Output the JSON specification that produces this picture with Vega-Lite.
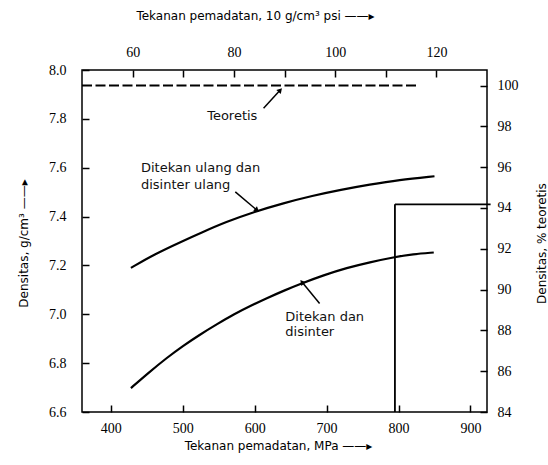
{
  "$schema": "https://vega.github.io/schema/vega-lite/v6.json",
  "width": 405,
  "height": 342,
  "autosize": "none",
  "padding": {"left": 82, "top": 70, "right": 61, "bottom": 53},
  "background": "white",
  "config": {
    "view": {"stroke": "black", "strokeWidth": 1.5},
    "axis": {
      "domain": false, "grid": false, "ticks": true, "tickColor": "black", "tickWidth": 1.5, "tickSize": -7,
      "labelFont": "Liberation Serif", "labelFontSize": 14, "labelColor": "black",
      "titleFont": "DejaVu Sans", "titleFontSize": 12, "titleFontWeight": "normal", "titleColor": "black"
    },
    "axisQuantitative": {"labelFont": "Liberation Serif", "tickSize": -7, "tickColor": "black"}
  },
  "datasets": {
    "curves": [
      {"series": "Ditekan ulang dan disinter ulang", "mpa": 428, "dens": 7.19},
      {"series": "Ditekan ulang dan disinter ulang", "mpa": 460, "dens": 7.245},
      {"series": "Ditekan ulang dan disinter ulang", "mpa": 500, "dens": 7.30},
      {"series": "Ditekan ulang dan disinter ulang", "mpa": 525, "dens": 7.333},
      {"series": "Ditekan ulang dan disinter ulang", "mpa": 560, "dens": 7.378},
      {"series": "Ditekan ulang dan disinter ulang", "mpa": 600, "dens": 7.42},
      {"series": "Ditekan ulang dan disinter ulang", "mpa": 640, "dens": 7.455},
      {"series": "Ditekan ulang dan disinter ulang", "mpa": 680, "dens": 7.485},
      {"series": "Ditekan ulang dan disinter ulang", "mpa": 720, "dens": 7.51},
      {"series": "Ditekan ulang dan disinter ulang", "mpa": 760, "dens": 7.531},
      {"series": "Ditekan ulang dan disinter ulang", "mpa": 800, "dens": 7.55},
      {"series": "Ditekan ulang dan disinter ulang", "mpa": 850, "dens": 7.565},
      {"series": "Ditekan dan disinter", "mpa": 428, "dens": 6.698},
      {"series": "Ditekan dan disinter", "mpa": 453, "dens": 6.762},
      {"series": "Ditekan dan disinter", "mpa": 478, "dens": 6.822},
      {"series": "Ditekan dan disinter", "mpa": 500, "dens": 6.870},
      {"series": "Ditekan dan disinter", "mpa": 524, "dens": 6.917},
      {"series": "Ditekan dan disinter", "mpa": 548, "dens": 6.960},
      {"series": "Ditekan dan disinter", "mpa": 571, "dens": 7.000},
      {"series": "Ditekan dan disinter", "mpa": 594, "dens": 7.034},
      {"series": "Ditekan dan disinter", "mpa": 617, "dens": 7.066},
      {"series": "Ditekan dan disinter", "mpa": 640, "dens": 7.096},
      {"series": "Ditekan dan disinter", "mpa": 664, "dens": 7.125},
      {"series": "Ditekan dan disinter", "mpa": 696, "dens": 7.160},
      {"series": "Ditekan dan disinter", "mpa": 728, "dens": 7.190},
      {"series": "Ditekan dan disinter", "mpa": 760, "dens": 7.213},
      {"series": "Ditekan dan disinter", "mpa": 794, "dens": 7.234},
      {"series": "Ditekan dan disinter", "mpa": 820, "dens": 7.246},
      {"series": "Ditekan dan disinter", "mpa": 849, "dens": 7.253}
    ],
    "guide": [
      {"mpa": 795, "dens": 6.6, "mpa2": 795, "dens2": 7.45},
      {"mpa": 795, "dens": 7.45, "mpa2": 928, "dens2": 7.45}
    ],
    "labels": [
      {"text": "Teoretis", "mpa": 534, "dens": 7.81},
      {"text": "Ditekan ulang dan", "mpa": 442, "dens": 7.597},
      {"text": "disinter ulang", "mpa": 442, "dens": 7.529},
      {"text": "Ditekan dan", "mpa": 642.6, "dens": 6.989},
      {"text": "disinter", "mpa": 642.6, "dens": 6.928}
    ],
    "arrows": [
      {"name": "teoretis", "mpa": 612.4, "dens": 7.843, "mpa2": 635.6, "dens2": 7.918},
      {"name": "ulang", "mpa": 573.1, "dens": 7.501, "mpa2": 603.3, "dens2": 7.426},
      {"name": "sekali", "mpa": 690.3, "dens": 7.044, "mpa2": 665.8, "dens2": 7.132}
    ],
    "theory": [
      {"psi": 50, "pct": 100},
      {"psi": 116.1, "pct": 100}
    ]
  },
  "layer": [
    {
      "layer": [
        {
          "data": {"name": "curves"},
          "mark": {"type": "line", "interpolate": "basis", "color": "black", "strokeWidth": 2.2},
          "encoding": {
            "x": {"field": "mpa", "type": "quantitative", "scale": {"domain": [360, 923], "nice": false, "zero": false},
              "axis": {"orient": "bottom", "values": [400, 500, 600, 700, 800, 900], "format": "d", "labelPadding": 16, "labelFont": "Liberation Serif", "tickSize": -7,
                "title": "Tekanan pemadatan, MPa ——▸", "titleX": 196, "titleY": 33, "titleBaseline": "middle", "titleAlign": "center"}},
            "y": {"field": "dens", "type": "quantitative", "scale": {"domain": [6.6, 8.0], "nice": false, "zero": false},
              "axis": {"orient": "left", "values": [6.6, 6.8, 7.0, 7.2, 7.4, 7.6, 7.8, 8.0], "format": ".1f", "labelPadding": 23, "labelFont": "Liberation Serif", "tickSize": -7,
                "title": "Densitas, g/cm³ ——▸", "titleX": -59, "titleY": 173, "titleAngle": 270, "titleBaseline": "middle", "titleAlign": "center"}},
            "detail": {"field": "series"}
          }
        },
        {
          "data": {"name": "guide"},
          "mark": {"type": "rule", "color": "black", "strokeWidth": 1.8},
          "encoding": {
            "x": {"field": "mpa", "type": "quantitative", "scale": {"domain": [360, 923], "nice": false, "zero": false},
              "axis": {"orient": "bottom", "values": [400, 500, 600, 700, 800, 900], "format": "d", "labelPadding": 16, "labelFont": "Liberation Serif", "tickSize": -7,
                "title": "Tekanan pemadatan, MPa ——▸", "titleX": 196, "titleY": 33, "titleBaseline": "middle", "titleAlign": "center"}},
            "y": {"field": "dens", "type": "quantitative", "scale": {"domain": [6.6, 8.0], "nice": false, "zero": false},
              "axis": {"orient": "left", "values": [6.6, 6.8, 7.0, 7.2, 7.4, 7.6, 7.8, 8.0], "format": ".1f", "labelPadding": 23, "labelFont": "Liberation Serif", "tickSize": -7,
                "title": "Densitas, g/cm³ ——▸", "titleX": -59, "titleY": 173, "titleAngle": 270, "titleBaseline": "middle", "titleAlign": "center"}},
            "x2": {"field": "mpa2"},
            "y2": {"field": "dens2"}
          }
        },
        {
          "data": {"name": "labels"},
          "mark": {"type": "text", "align": "left", "baseline": "middle", "font": "DejaVu Sans", "fontSize": 13, "color": "#111"},
          "encoding": {
            "x": {"field": "mpa", "type": "quantitative", "scale": {"domain": [360, 923], "nice": false, "zero": false},
              "axis": {"orient": "bottom", "values": [400, 500, 600, 700, 800, 900], "format": "d", "labelPadding": 16, "labelFont": "Liberation Serif", "tickSize": -7,
                "title": "Tekanan pemadatan, MPa ——▸", "titleX": 196, "titleY": 33, "titleBaseline": "middle", "titleAlign": "center"}},
            "y": {"field": "dens", "type": "quantitative", "scale": {"domain": [6.6, 8.0], "nice": false, "zero": false},
              "axis": {"orient": "left", "values": [6.6, 6.8, 7.0, 7.2, 7.4, 7.6, 7.8, 8.0], "format": ".1f", "labelPadding": 23, "labelFont": "Liberation Serif", "tickSize": -7,
                "title": "Densitas, g/cm³ ——▸", "titleX": -59, "titleY": 173, "titleAngle": 270, "titleBaseline": "middle", "titleAlign": "center"}},
            "text": {"field": "text"}
          }
        },
        {
          "data": {"name": "arrows"},
          "mark": {"type": "rule", "color": "black", "strokeWidth": 1.5},
          "encoding": {
            "x": {"field": "mpa", "type": "quantitative", "scale": {"domain": [360, 923], "nice": false, "zero": false},
              "axis": {"orient": "bottom", "values": [400, 500, 600, 700, 800, 900], "format": "d", "labelPadding": 16, "labelFont": "Liberation Serif", "tickSize": -7,
                "title": "Tekanan pemadatan, MPa ——▸", "titleX": 196, "titleY": 33, "titleBaseline": "middle", "titleAlign": "center"}},
            "y": {"field": "dens", "type": "quantitative", "scale": {"domain": [6.6, 8.0], "nice": false, "zero": false},
              "axis": {"orient": "left", "values": [6.6, 6.8, 7.0, 7.2, 7.4, 7.6, 7.8, 8.0], "format": ".1f", "labelPadding": 23, "labelFont": "Liberation Serif", "tickSize": -7,
                "title": "Densitas, g/cm³ ——▸", "titleX": -59, "titleY": 173, "titleAngle": 270, "titleBaseline": "middle", "titleAlign": "center"}},
            "x2": {"field": "mpa2"},
            "y2": {"field": "dens2"}
          }
        },
        {
          "data": {"name": "arrows"},
          "transform": [{"filter": "datum.name == 'teoretis'"}],
          "mark": {"type": "point", "shape": "triangle-up", "filled": true, "color": "black", "opacity": 1, "size": 35, "angle": 42},
          "encoding": {
            "x": {"field": "mpa2", "type": "quantitative", "scale": {"domain": [360, 923], "nice": false, "zero": false},
              "axis": {"orient": "bottom", "values": [400, 500, 600, 700, 800, 900], "format": "d", "labelPadding": 16, "labelFont": "Liberation Serif", "tickSize": -7,
                "title": "Tekanan pemadatan, MPa ——▸", "titleX": 196, "titleY": 33, "titleBaseline": "middle", "titleAlign": "center"}},
            "y": {"field": "dens2", "type": "quantitative", "scale": {"domain": [6.6, 8.0], "nice": false, "zero": false},
              "axis": {"orient": "left", "values": [6.6, 6.8, 7.0, 7.2, 7.4, 7.6, 7.8, 8.0], "format": ".1f", "labelPadding": 23, "labelFont": "Liberation Serif", "tickSize": -7,
                "title": "Densitas, g/cm³ ——▸", "titleX": -59, "titleY": 173, "titleAngle": 270, "titleBaseline": "middle", "titleAlign": "center"}}
          }
        },
        {
          "data": {"name": "arrows"},
          "transform": [{"filter": "datum.name == 'ulang'"}],
          "mark": {"type": "point", "shape": "triangle-up", "filled": true, "color": "black", "opacity": 1, "size": 35, "angle": 130},
          "encoding": {
            "x": {"field": "mpa2", "type": "quantitative", "scale": {"domain": [360, 923], "nice": false, "zero": false},
              "axis": {"orient": "bottom", "values": [400, 500, 600, 700, 800, 900], "format": "d", "labelPadding": 16, "labelFont": "Liberation Serif", "tickSize": -7,
                "title": "Tekanan pemadatan, MPa ——▸", "titleX": 196, "titleY": 33, "titleBaseline": "middle", "titleAlign": "center"}},
            "y": {"field": "dens2", "type": "quantitative", "scale": {"domain": [6.6, 8.0], "nice": false, "zero": false},
              "axis": {"orient": "left", "values": [6.6, 6.8, 7.0, 7.2, 7.4, 7.6, 7.8, 8.0], "format": ".1f", "labelPadding": 23, "labelFont": "Liberation Serif", "tickSize": -7,
                "title": "Densitas, g/cm³ ——▸", "titleX": -59, "titleY": 173, "titleAngle": 270, "titleBaseline": "middle", "titleAlign": "center"}}
          }
        },
        {
          "data": {"name": "arrows"},
          "transform": [{"filter": "datum.name == 'sekali'"}],
          "mark": {"type": "point", "shape": "triangle-up", "filled": true, "color": "black", "opacity": 1, "size": 35, "angle": 321},
          "encoding": {
            "x": {"field": "mpa2", "type": "quantitative", "scale": {"domain": [360, 923], "nice": false, "zero": false},
              "axis": {"orient": "bottom", "values": [400, 500, 600, 700, 800, 900], "format": "d", "labelPadding": 16, "labelFont": "Liberation Serif", "tickSize": -7,
                "title": "Tekanan pemadatan, MPa ——▸", "titleX": 196, "titleY": 33, "titleBaseline": "middle", "titleAlign": "center"}},
            "y": {"field": "dens2", "type": "quantitative", "scale": {"domain": [6.6, 8.0], "nice": false, "zero": false},
              "axis": {"orient": "left", "values": [6.6, 6.8, 7.0, 7.2, 7.4, 7.6, 7.8, 8.0], "format": ".1f", "labelPadding": 23, "labelFont": "Liberation Serif", "tickSize": -7,
                "title": "Densitas, g/cm³ ——▸", "titleX": -59, "titleY": 173, "titleAngle": 270, "titleBaseline": "middle", "titleAlign": "center"}}
          }
        }
      ]
    },
    {
      "layer": [
        {
          "data": {"name": "theory"},
          "mark": {"type": "line", "color": "black", "strokeWidth": 2, "strokeDash": [10, 3.5]},
          "encoding": {
            "x": {"field": "psi", "type": "quantitative", "scale": {"domain": [50, 130], "nice": false, "zero": false},
              "axis": {"orient": "top", "values": [60, 70, 80, 90, 100, 110, 120], "labelExpr": "datum.value % 20 == 0 ? datum.label : ''", "labelPadding": 18, "labelFont": "Liberation Serif", "tickSize": -7,
                "title": "Tekanan pemadatan, 10 g/cm³ psi ——▸", "titleX": 173, "titleY": -55, "titleBaseline": "middle", "titleAlign": "center"}},
            "y": {"field": "pct", "type": "quantitative", "scale": {"domain": [84, 100.76], "nice": false, "zero": false},
              "axis": {"orient": "right", "values": [84, 86, 88, 90, 92, 94, 96, 98, 100], "format": "d", "labelPadding": 17, "labelFont": "Liberation Serif", "tickSize": -7,
                "title": "Densitas, % teoretis", "titleX": 54, "titleY": 173, "titleAngle": 270, "titleBaseline": "middle", "titleAlign": "center"}}
          }
        }
      ]
    }
  ],
  "resolve": {"scale": {"x": "independent", "y": "independent"}}
}
